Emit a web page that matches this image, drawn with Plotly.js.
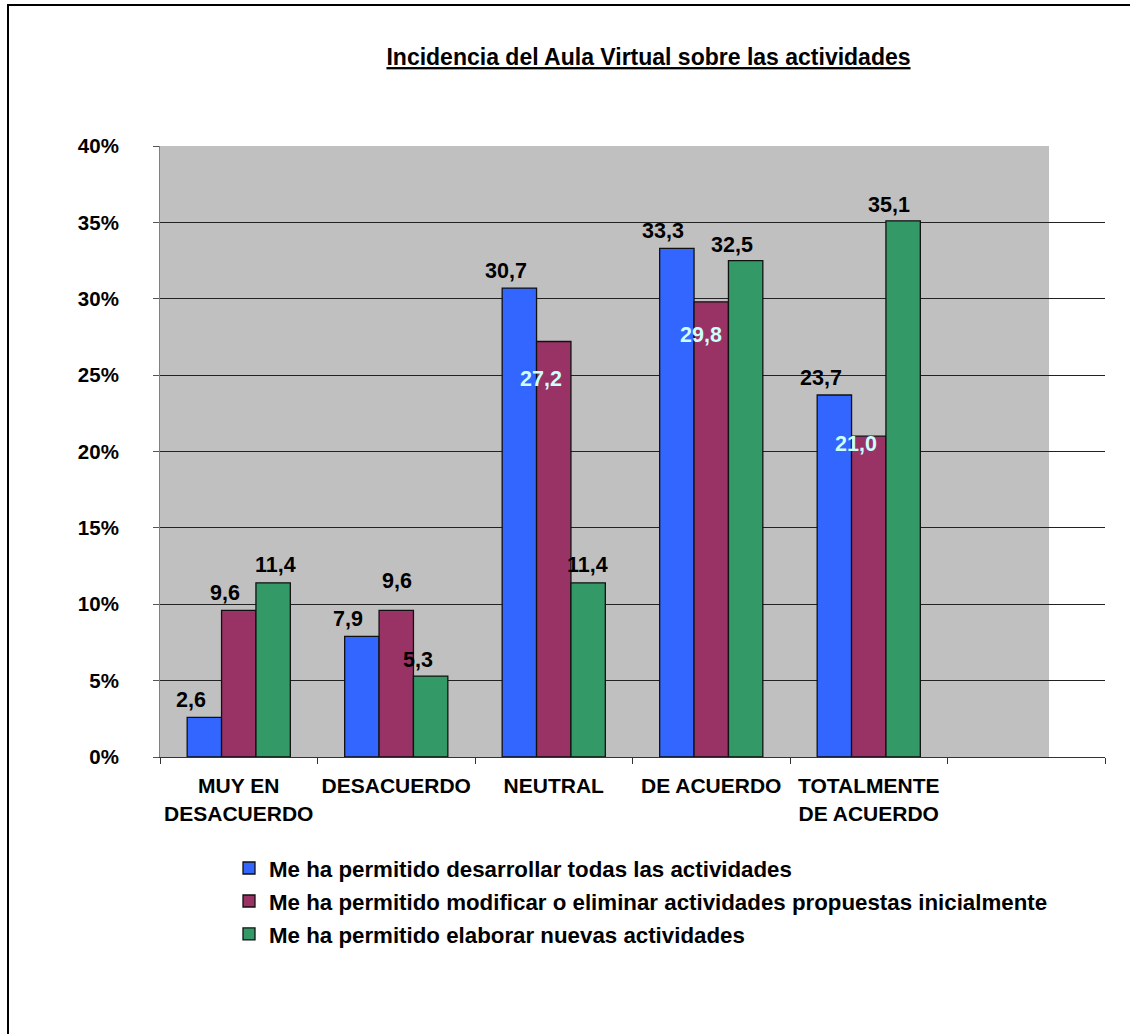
<!DOCTYPE html>
<html>
<head>
<meta charset="utf-8">
<script src="https://cdn.plot.ly/plotly-3.0.1.min.js"></script>
<style>
  html, body { margin: 0; padding: 0; background: #ffffff; }
  #chart { width: 1130px; height: 1034px; }
</style>
</head>
<body>
<div id="chart"></div>
<script>
// ---- data ----
const categories = ['MUY EN<br>DESACUERDO', 'DESACUERDO', 'NEUTRAL', 'DE ACUERDO', 'TOTALMENTE<br>DE ACUERDO'];
const seriesNames = [
  'Me ha permitido desarrollar todas las actividades',
  'Me ha permitido modificar o eliminar actividades propuestas inicialmente',
  'Me ha permitido elaborar nuevas actividades'
];
const desarrollar = [2.6, 7.9, 30.7, 33.3, 23.7];
const modificar   = [9.6, 9.6, 27.2, 29.8, 21.0];
const elaborar    = [11.4, 5.3, 11.4, 32.5, 35.1];
const yTickValues = [0, 5, 10, 15, 20, 25, 30, 35, 40];
const yTickLabels = ['0%', '5%', '10%', '15%', '20%', '25%', '30%', '35%', '40%'];

// ---- styling ----
const colors = ['#3366FF', '#993366', '#339966'];
const series = [desarrollar, modificar, elaborar];
// label offsets in pixels [dx, dy] relative to top-centre of each bar (dy>0 = downwards)
const labelOffsets = [
  [[-13.5, -17], [-13.5, -17], [-13.5, -17], [-13.5, -17], [-13.5, -17]],
  [[-13.5, -17], [1, -29.5], [-12.3, 37], [-10.3, 33.5], [-12.3, 8]],
  [[2, -18], [-13, -16], [-1, -18], [-13.4, -15.5], [-14, -15.7]]
];
const labelWhite = [
  [false, false, false, false, false],
  [false, false, true, true, true],
  [false, false, false, false, false]
];

const bargap = 0.345;
const barUnit = (1 - bargap) / 3;
const FONT = 'Arial, "Liberation Sans", Helvetica, sans-serif';
const nSlots = categories.length + 1; // one empty slot at the right

const xIdx = categories.map((c, i) => i);

const traces = series.map((vals, j) => ({
  type: 'bar',
  name: seriesNames[j],
  x: xIdx,
  y: vals,
  legendgroup: 'g' + j,
  marker: { color: colors[j], line: { color: '#111111', width: 1.3 } },
  hoverinfo: 'skip'
}));

const annotations = [];
series.forEach((vals, j) => {
  vals.forEach((v, i) => {
    const off = labelOffsets[j][i];
    annotations.push({
      xref: 'x', yref: 'y',
      x: i + (j - 1) * barUnit,
      y: v,
      text: v.toFixed(1).replace('.', ','),
      showarrow: false,
      xanchor: 'center', yanchor: 'middle',
      xshift: off[0], yshift: -off[1],
      font: { family: FONT, size: 21.5, weight: 'bold', color: labelWhite[j][i] ? '#CCFFFF' : '#000000' }
    });
  });
});

// pixel helpers for paper coords
const ML = 160, MR = 25, MT = 146, MB = 277;
const PW = 1130 - ML - MR, PH = 1034 - MT - MB;
const px2x = p => (p - ML) / PW;
const px2y = p => (1034 - MB - p) / PH;

const shapes = [
  // grey plotting area (stops short of the right end of the axis)
  { type: 'rect', xref: 'paper', yref: 'paper', x0: 0, x1: px2x(1049), y0: 0, y1: 1,
    fillcolor: '#C0C0C0', line: { width: 0 }, layer: 'below' },
  // outer frame: left and top edges
  { type: 'line', xref: 'paper', yref: 'paper', x0: px2x(8), x1: px2x(8), y0: px2y(1040), y1: px2y(5),
    line: { color: '#000000', width: 2 }, layer: 'above' },
  { type: 'line', xref: 'paper', yref: 'paper', x0: px2x(7), x1: px2x(1140), y0: px2y(5), y1: px2y(5),
    line: { color: '#000000', width: 2 }, layer: 'above' }
];

const boundaries = [];
for (let k = 0; k <= nSlots; k++) boundaries.push(k - 0.5);

const layout = {
  width: 1130, height: 1034,
  margin: { l: ML, r: MR, t: MT, b: MB, pad: 0 },
  paper_bgcolor: '#ffffff',
  plot_bgcolor: '#ffffff',
  font: { family: FONT, size: 20, color: '#000000', weight: 'bold' },
  barmode: 'group',
  bargap: bargap,
  bargroupgap: 0,
  showlegend: true,
  title: {
    text: 'Incidencia del Aula Virtual sobre las actividades',
    xref: 'paper', x: px2x(648.5), xanchor: 'center',
    yref: 'container', y: 1 - 57 / 1034, yanchor: 'middle',
    font: { family: FONT, size: 23, weight: 'bold', color: '#000000', lineposition: 'under' }
  },
  xaxis: {
    type: 'linear',
    range: [-0.5, nSlots - 0.5],
    tickmode: 'array',
    tickvals: xIdx,
    ticktext: categories,
    ticks: '',
    showgrid: false,
    zeroline: false,
    showline: true,
    linecolor: '#333333',
    linewidth: 1,
    tickfont: { family: FONT, size: 21, weight: 'bold', color: '#000000' },
    ticklabelstandoff: 10,
    minor: { tickmode: 'array', tickvals: boundaries, ticks: 'outside', ticklen: 6, tickcolor: '#333333', tickwidth: 1, showgrid: false },
    fixedrange: true
  },
  yaxis: {
    range: [0, 40],
    tickmode: 'array',
    tickvals: yTickValues,
    ticktext: yTickLabels,
    ticks: 'outside',
    ticklen: 6,
    tickcolor: '#555555',
    showgrid: true,
    gridcolor: '#222222',
    gridwidth: 1,
    zeroline: false,
    showline: true,
    linecolor: '#808080',
    linewidth: 1,
    tickfont: { family: FONT, size: 20.5, weight: 'bold', color: '#000000' },
    ticklabelstandoff: 30,
    fixedrange: true
  },
  legend: {
    x: px2x(229), xanchor: 'left',
    y: px2y(847), yanchor: 'top',
    traceorder: 'grouped',
    tracegroupgap: 1,
    bgcolor: 'rgba(0,0,0,0)',
    borderwidth: 0,
    font: { family: FONT, size: 22.3, weight: 'bold', color: '#000000' }
  },
  shapes: shapes,
  annotations: annotations
};

Plotly.newPlot('chart', traces, layout, { displayModeBar: false, staticPlot: true });
</script>
</body>
</html>
